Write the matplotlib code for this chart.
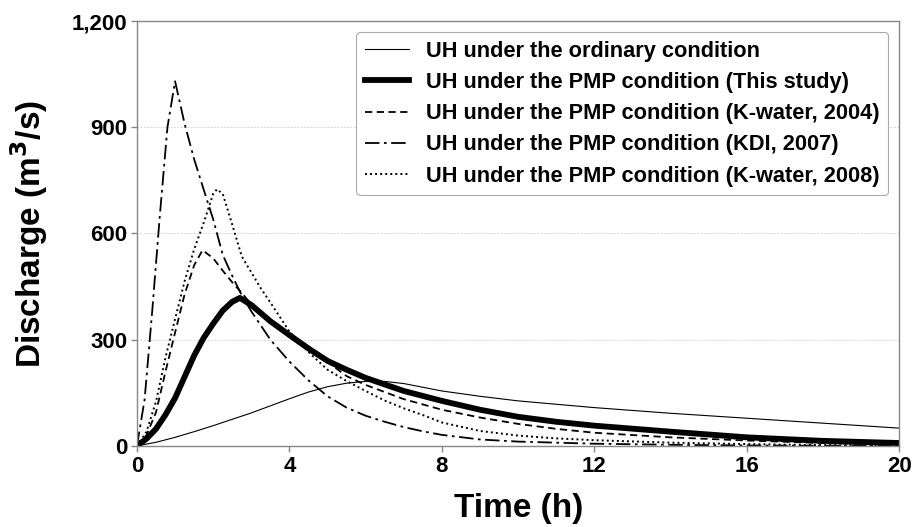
import matplotlib
matplotlib.use('Agg')
import matplotlib.pyplot as plt
from matplotlib.ticker import FuncFormatter

plt.rcParams['font.family'] = ['Liberation Sans', 'DejaVu Sans']
plt.rcParams['font.weight'] = 'bold'

# --- data (time in h, discharge in m3/s) ---
t_ordinary = [0, 0.5, 1, 1.5, 2, 2.5, 3, 3.5, 4, 4.5, 5, 5.5, 6, 6.5, 7, 8, 9, 10, 12, 14, 16, 18, 20]
q_ordinary = [0, 10, 24, 40, 57, 75, 93, 113, 133, 152, 167, 177, 182, 182, 176, 155, 140, 127, 108, 92, 78, 64, 50]

t_study = [0, 0.25, 0.5, 0.75, 1.0, 1.25, 1.5, 1.75, 2.0, 2.25, 2.5, 2.7, 3.0, 3.5, 4.0, 4.5, 5.0, 5.5,
           6.0, 7.0, 8.0, 9.0, 10, 11, 12, 14, 16, 18, 20]
q_study = [0, 20, 48, 88, 135, 195, 255, 305, 345, 382, 407, 418, 398, 352, 313, 275, 240, 215,
           192, 155, 127, 102, 82, 68, 57, 40, 24, 14, 8]

t_kwater04 = [0, 0.25, 0.5, 0.75, 1.0, 1.25, 1.5, 1.72, 2.0, 2.25, 2.5, 2.75, 3.0, 3.5, 4.0, 4.5, 5, 5.5,
              6, 7, 8, 9, 10, 11, 12, 14, 16, 18, 20]
q_kwater04 = [0, 30, 95, 210, 320, 428, 510, 553, 530, 495, 462, 432, 400, 350, 310, 272, 237, 197,
              172, 132, 102, 80, 62, 48, 37, 24, 15, 8, 4]

t_kdi07 = [0, 0.2, 0.4, 0.6, 0.8, 1.0, 1.25, 1.5, 1.78, 2.0, 2.25, 2.5, 2.75, 3.0, 3.5, 4.0, 4.5, 5,
           5.5, 6, 6.5, 7, 7.5, 8, 9, 10, 12, 14, 16, 20]
q_kdi07 = [0, 130, 380, 650, 900, 1030, 910, 810, 714, 640, 540, 480, 425, 380, 300, 238, 185, 140,
           108, 85, 68, 53, 41, 31, 18, 12, 6, 3, 1, 0]

t_kwater08 = [0, 0.25, 0.5, 0.75, 1.0, 1.25, 1.5, 1.75, 2.0, 2.1, 2.25, 2.5, 2.75, 3.0, 3.25, 3.5, 4.0,
              4.5, 5, 5.5, 6, 6.5, 7, 7.5, 8, 9, 10, 11, 12, 14, 16, 18, 20]
q_kwater08 = [0, 40, 125, 250, 358, 465, 555, 630, 712, 725, 712, 625, 535, 490, 445, 405, 323,
              265, 215, 183, 155, 128, 106, 87, 66, 42, 29, 21, 16, 9, 5, 2, 1]

labels = ['UH under the ordinary condition',
          'UH under the PMP condition (This study)',
          'UH under the PMP condition (K-water, 2004)',
          'UH under the PMP condition (KDI, 2007)',
          'UH under the PMP condition (K-water, 2008)']

fig, ax = plt.subplots(figsize=(9.13, 5.27), dpi=100)
fig.subplots_adjust(left=0.150, right=0.985, bottom=0.154, top=0.960)

ax.plot(t_ordinary, q_ordinary, color='black', lw=0.8, label=labels[0])
ax.plot(t_study, q_study, color='black', lw=4.2, label=labels[1])
ax.plot(t_kwater04, q_kwater04, color='black', lw=1.3, dashes=(4, 2.5), label=labels[2])
ax.plot(t_kdi07, q_kdi07, color='black', lw=1.3, dashes=(8, 2.5, 1.5, 2.5), label=labels[3])
ax.plot(t_kwater08, q_kwater08, color='black', lw=1.4, dashes=(1, 1.6), label=labels[4])

ax.set_xlim(0, 20)
ax.set_ylim(0, 1200)
ax.set_xticks([0, 4, 8, 12, 16, 20])
ax.set_yticks([0, 300, 600, 900, 1200])
ax.yaxis.set_major_formatter(FuncFormatter(lambda v, p: f'{int(v):,}'))
ax.grid(axis='y', color='#cccccc', lw=0.6, ls=(0, (2, 2)))
ax.set_axisbelow(True)

for s in ax.spines.values():
    s.set_color('#888888')
    s.set_linewidth(1.0)
ax.tick_params(axis='both', labelsize=16, color='#888888', length=4, width=1, pad=3)

ax.set_xlabel('Time (h)', fontsize=24, fontweight='bold')
ax.set_ylabel('Discharge (m$^\\mathbf{3}$/s)', fontsize=24, fontweight='bold')
ax.xaxis.set_label_coords(0.5, -0.11)
ax.yaxis.set_label_coords(-0.114, 0.5)

leg = ax.legend(loc='upper right', fontsize=15.7, handlelength=2.0, labelspacing=0.47,
                borderaxespad=0.5, fancybox=True, framealpha=1, edgecolor='#aaaaaa')
leg.get_frame().set_linewidth(0.8)

fig.savefig('out.png', dpi=100)
